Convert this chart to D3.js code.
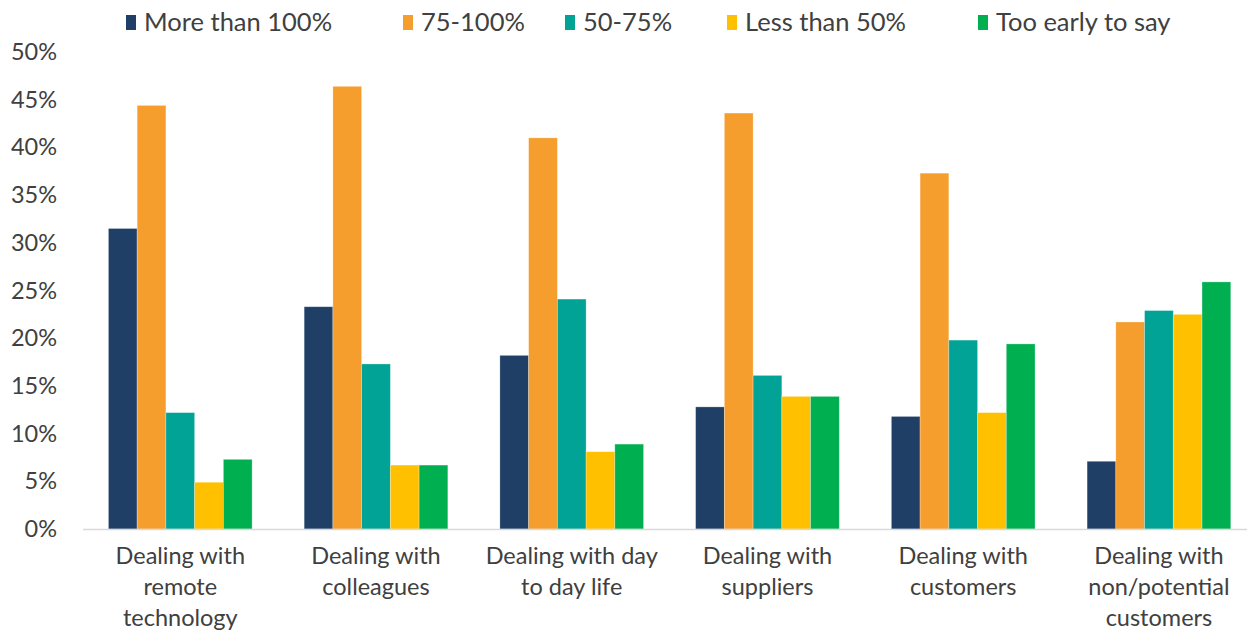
<!DOCTYPE html>
<html>
<head>
<meta charset="utf-8">
<script src="https://cdn.jsdelivr.net/npm/d3@7"></script>
<style>
  html, body { margin: 0; padding: 0; background: #fff; }
  svg { display: block; font-family: Lato, "Open Sans", sans-serif; }
</style>
</head>
<body>
<svg id="chart" width="1247" height="631"></svg>
<script>
// Survey categories (x axis), one label line per array entry
const categories = [
  ["Dealing with", "remote", "technology"],
  ["Dealing with", "colleagues"],
  ["Dealing with day", "to day life"],
  ["Dealing with", "suppliers"],
  ["Dealing with", "customers"],
  ["Dealing with", "non/potential", "customers"]
];

const seriesNames = ["More than 100%", "75-100%", "50-75%", "Less than 50%", "Too early to say"];

// Share of respondents (%) per category, one array per series
const moreThan100 = [31.5, 23.3, 18.2, 12.8, 11.8, 7.1];
const from75to100 = [44.4, 46.4, 41.0, 43.6, 37.3, 21.7];
const from50to75  = [12.2, 17.3, 24.1, 16.1, 19.8, 22.9];
const lessThan50  = [4.9, 6.7, 8.1, 13.9, 12.2, 22.5];
const tooEarly    = [7.3, 6.7, 8.9, 13.9, 19.4, 25.9];

const yTicks = [0, 5, 10, 15, 20, 25, 30, 35, 40, 45, 50];

const seriesValues = [moreThan100, from75to100, from50to75, lessThan50, tooEarly];
const colors = ["#1f3f66", "#f59d2d", "#00a396", "#ffc000", "#00af50"];
const textColor = "#404040";

const svg = d3.select("#chart");
const margin = { left: 82.4, right: -9.8, top: 52, bottom: 102 };
const W = 1247, H = 631;

const x0 = d3.scaleBand()
  .domain(d3.range(categories.length))
  .range([margin.left, W - margin.right])
  .paddingInner(0.266)
  .paddingOuter(0.133);

const x1 = d3.scaleBand()
  .domain(d3.range(seriesNames.length))
  .range([0, x0.bandwidth()])
  .padding(0);

const y = d3.scaleLinear().domain([0, 50]).range([H - margin.bottom, margin.top]);

// Y axis labels
const yAxis = d3.axisLeft(y)
  .tickValues(yTicks)
  .tickFormat(d => d + "%")
  .tickSize(0)
  .tickPadding(0);

const yg = svg.append("g")
  .attr("transform", `translate(57,0)`)
  .call(yAxis);
yg.select(".domain").remove();
yg.selectAll("text")
  .attr("font-size", 23.5)
  .attr("fill", textColor)
  .attr("font-family", "Lato, sans-serif");

// Bars
const groups = svg.append("g")
  .selectAll("g")
  .data(categories)
  .join("g")
  .attr("transform", (d, i) => `translate(${x0(i)},0)`);

groups.selectAll("rect")
  .data((d, i) => seriesValues.map((vals, s) => ({ s, v: vals[i] })))
  .join("rect")
  .attr("x", d => x1(d.s))
  .attr("y", d => y(d.v))
  .attr("width", x1.bandwidth())
  .attr("height", d => y(0) - y(d.v))
  .attr("fill", d => colors[d.s])
  .attr("stroke", "#ffffff")
  .attr("stroke-opacity", 0.35)
  .attr("stroke-width", 0.8);

// Baseline
const xAxis = d3.axisBottom(x0).tickSize(0).tickFormat("");
const xg = svg.append("g")
  .attr("transform", `translate(0,${y(0)})`)
  .call(xAxis);
xg.select(".domain").attr("stroke", "#d9d9d9").attr("stroke-width", 1.5);

// Category labels
const labels = svg.append("g")
  .selectAll("text")
  .data(categories)
  .join("text")
  .attr("x", (d, i) => x0(i) + x0.bandwidth() / 2)
  .attr("y", 564)
  .attr("text-anchor", "middle")
  .attr("font-size", 23.5)
  .attr("fill", textColor);
labels.selectAll("tspan")
  .data(d => d)
  .join("tspan")
  .attr("x", function () { return d3.select(this.parentNode).attr("x"); })
  .attr("dy", (d, i) => i === 0 ? 0 : 31)
  .text(d => d);

// Legend
const legendX = [126, 403, 565, 727, 978];
const legend = svg.append("g")
  .selectAll("g")
  .data(seriesNames)
  .join("g")
  .attr("transform", (d, i) => `translate(${legendX[i]},15)`);
legend.append("rect")
  .attr("width", 10)
  .attr("height", 15)
  .attr("fill", (d, i) => colors[i]);
legend.append("text")
  .attr("x", 18)
  .attr("y", 16)
  .attr("font-size", 25.5)
  .attr("fill", textColor)
  .text(d => d);
</script>
</body>
</html>
